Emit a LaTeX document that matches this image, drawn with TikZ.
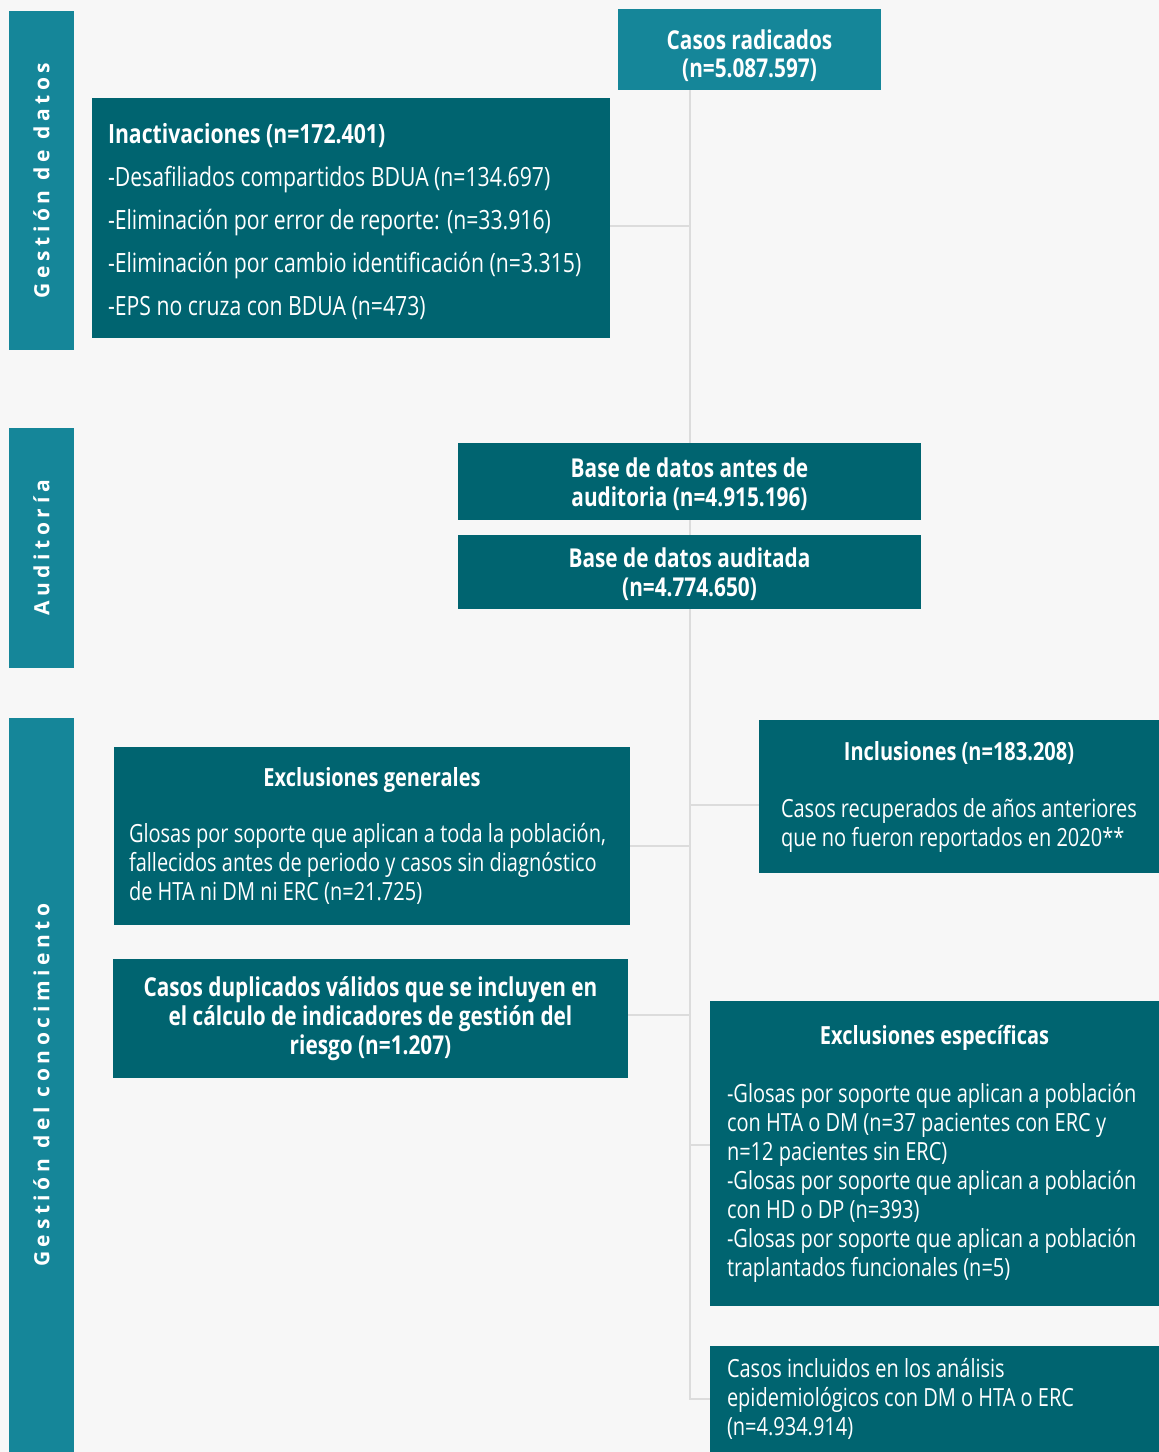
\documentclass[tikz,border=0pt]{standalone}
\usepackage{fontspec}
\setmainfont{Open Sans}[FakeStretch=0.8]
\newfontfamily\sidefont{Open Sans}[LetterSpace=22]
\usepackage{tikz}
\hyphenpenalty=10000
\definecolor{FlowBack}{HTML}{F7F7F7}
\definecolor{FlowTeal}{HTML}{006470}
\definecolor{FlowLight}{HTML}{158699}
\definecolor{FlowLine}{HTML}{DCDCDC}
\tikzset{
  box/.style={fill=FlowTeal,text=white,inner sep=0pt,align=flush left,font=\fontsize{25}{29}\selectfont},
  head/.style={box,align=center,font=\bfseries\fontsize{26}{29}\selectfont},
  sidebar/.style={fill=FlowLight,text=white,inner sep=0pt,minimum height=65pt,rotate=90,font=\sidefont\bfseries\fontsize{21}{24}\selectfont},
  link/.style={draw=FlowLine,line width=2pt}
}

\begin{document}
\begin{tikzpicture}[x=1pt,y=-1pt]
    \fill[FlowBack] (0,0) rectangle (1159,1452);
    \useasboundingbox (0,0) rectangle (1159,1452);
    \foreach \y/\h/\name/\txt in {180.5/339/sdatos/Gestión de datos,548/240/saudit/Auditoría,1085/734/sconoc/Gestión del conocimiento} {
     \node[sidebar,minimum width=\h pt] (\name) at (41.5,\y) {\txt};
    }
    \node[head,fill=FlowLight,minimum width=263pt,minimum height=81pt,font=\bfseries\fontsize{26}{28}\selectfont] (radicados) at (749.5,49.5) {\rule{0pt}{33pt}Casos radicados\\(n=5.087.597)};
    \node[box,minimum width=518pt,minimum height=240pt,text width=486pt,font=\fontsize{26.5}{43}\selectfont] (inact) at (351,218) {\rule{0pt}{27pt}\textbf{Inactivaciones (n=172.401)}\\-Desafiliados compartidos BDUA (n=134.697)\\-Eliminación por error de reporte: (n=33.916)\\-Eliminación por cambio identificación (n=3.315)\\-EPS no cruza con BDUA (n=473)};
    \node[head,minimum width=463pt,minimum height=77pt] (antes) at (689.5,481.5) {\rule{0pt}{25pt}Base de datos antes de\\auditoria (n=4.915.196)};
    \node[head,minimum width=463pt,minimum height=74pt] (auditada) at (689.5,572) {\rule{0pt}{25pt}Base de datos auditada\\(n=4.774.650)};
    \node[box,minimum width=400pt,minimum height=153pt,text width=356pt] (incl) at (959,796.5) {\makebox[\linewidth]{\bfseries Inclusiones (n=183.208)}\\[28pt]Casos recuperados de años anteriores\\que no fueron reportados en 2020**};
    \node[box,minimum width=516pt,minimum height=178pt,text width=486pt] (exgen) at (372,836) {\makebox[\linewidth]{\bfseries Exclusiones generales}\\[27pt]Glosas por soporte que aplican a toda la población,\\fallecidos antes de periodo y casos sin diagnóstico\\de HTA ni DM ni ERC (n=21.725)};
    \node[head,minimum width=515pt,minimum height=119pt] (dup) at (370.5,1018.5) {Casos duplicados válidos que se incluyen en\\el cálculo de indicadores de gestión del\\riesgo (n=1.207)};
    \node[box,minimum width=449pt,minimum height=305pt,text width=415pt] (exesp) at (934.5,1153.5) {\makebox[\linewidth]{\bfseries Exclusiones específicas}\\[29pt]-Glosas por soporte que aplican a población\\con HTA o DM (n=37 pacientes con ERC y\\n=12 pacientes sin ERC)\\-Glosas por soporte que aplican a población\\con HD o DP (n=393)\\-Glosas por soporte que aplican a población\\traplantados funcionales (n=5)};
    \node[box,minimum width=449pt,minimum height=106pt,text width=415pt] (incluidos) at (934.5,1399) {Casos incluidos en los análisis\\epidemiológicos con DM o HTA o ERC\\(n=4.934.914)};
    \draw[link] (radicados.south -| antes.north) -- (antes.north);
    \draw[link] (antes.south) -- (auditada.north);
    \draw[link] (auditada.south) -- (auditada.south |- incluidos.west) -- (incluidos.west);
    \foreach \name/\dy in {inact/-8,exgen/-10,dup/3.5} {
     \draw[link] ([yshift=\dy pt]\name.east) -- ([yshift=\dy pt]\name.east -| antes.north);
    }
    \foreach \name/\dy in {incl/-8.5,exesp/8.5} {
     \draw[link] ([yshift=\dy pt]\name.west) -- ([yshift=\dy pt]\name.west -| antes.north);
    }
   \end{tikzpicture}
\end{document}
